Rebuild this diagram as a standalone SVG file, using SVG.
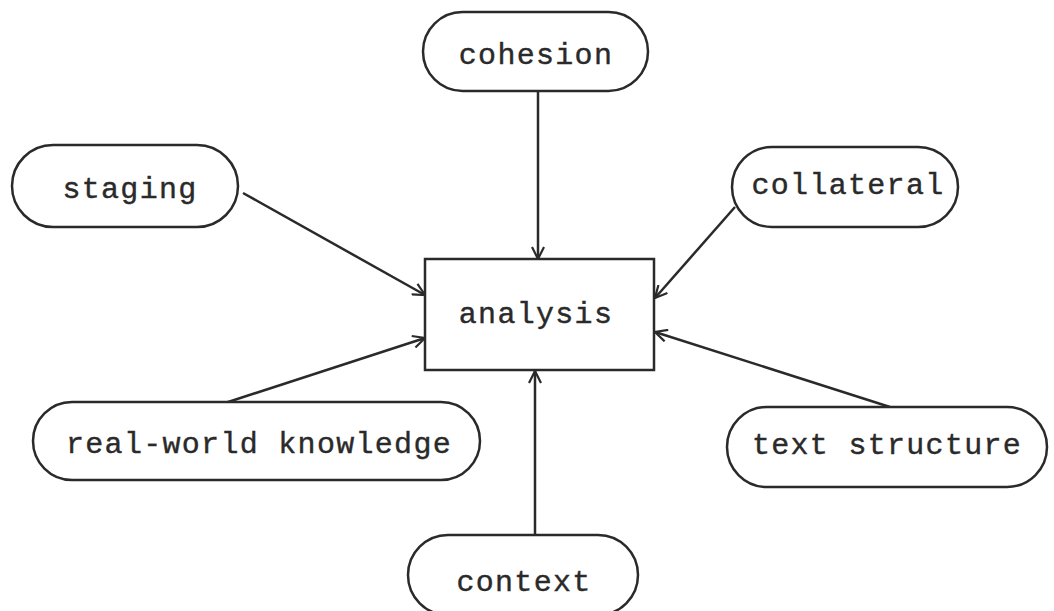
<svg xmlns="http://www.w3.org/2000/svg" width="1054" height="611" viewBox="0 0 1054 611">
<style>
.n{fill:#fff;stroke:#2a2a2a;stroke-width:2.5}
.t{font-family:"Liberation Mono",monospace;font-size:30px;letter-spacing:1.3px;fill:#2a2a2a;stroke:#2a2a2a;stroke-width:0.4;text-anchor:middle}
.c{stroke:#2a2a2a;stroke-width:2.5;fill:none}
</style>
<defs>
<marker id="a" viewBox="0 0 14 14" refX="13" refY="7" markerWidth="14" markerHeight="14" markerUnits="userSpaceOnUse" orient="auto">
<path d="M1,1 L13,7 L1,13" fill="none" stroke="#2a2a2a" stroke-width="2.2"/>
</marker>
</defs>
<rect width="1054" height="611" fill="#fff"/>
<g id="connectors">
<line class="c" x1="538" y1="91" x2="538" y2="259" marker-end="url(#a)"/>
<line class="c" x1="243" y1="193" x2="425" y2="295" marker-end="url(#a)"/>
<line class="c" x1="735" y1="207" x2="655" y2="298" marker-end="url(#a)"/>
<line class="c" x1="225" y1="403" x2="425" y2="338" marker-end="url(#a)"/>
<line class="c" x1="890" y1="407" x2="655" y2="332" marker-end="url(#a)"/>
<line class="c" x1="535" y1="535" x2="535" y2="371" marker-end="url(#a)"/>
</g>
<g id="analysis">
<rect class="n" x="425" y="259" width="229" height="111"/>
<text class="t" x="536" y="323">analysis</text>
</g>
<g id="cohesion">
<rect class="n" x="423" y="12" width="225" height="79" rx="39.5"/>
<text class="t" x="536" y="64">cohesion</text>
</g>
<g id="staging">
<rect class="n" x="12" y="145" width="226" height="82" rx="41"/>
<text class="t" x="130" y="198">staging</text>
</g>
<g id="collateral">
<rect class="n" x="732" y="147" width="226" height="80" rx="40"/>
<text class="t" x="848" y="194">collateral</text>
</g>
<g id="real-world-knowledge">
<rect class="n" x="33" y="402" width="447" height="78" rx="39"/>
<text class="t" x="259" y="453">real-world knowledge</text>
</g>
<g id="text-structure">
<rect class="n" x="727" y="407" width="320" height="80" rx="40"/>
<text class="t" x="887" y="454">text structure</text>
</g>
<g id="context">
<rect class="n" x="408" y="535" width="230" height="80" rx="40"/>
<text class="t" x="524" y="591">context</text>
</g>
</svg>
